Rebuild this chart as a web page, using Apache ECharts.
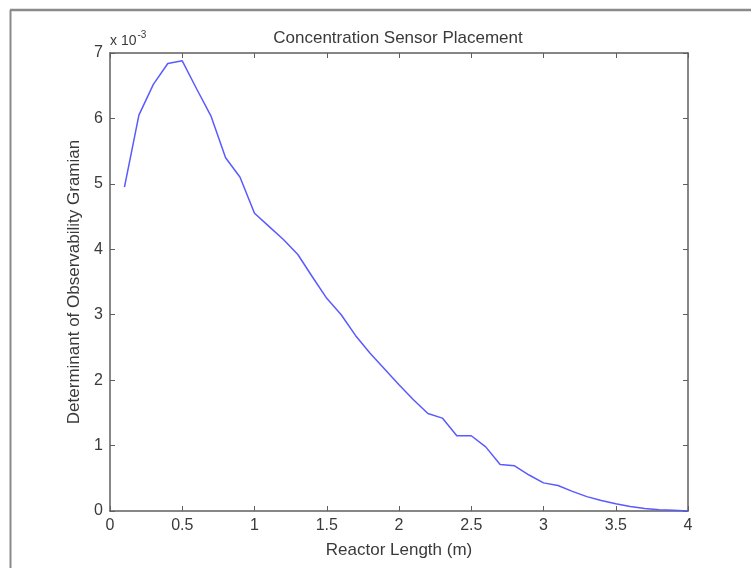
<!DOCTYPE html>
<html>
<head>
<meta charset="utf-8">
<style>
  html, body { margin: 0; padding: 0; background: #ffffff; }
  #chart { width: 751px; height: 568px; }
</style>
<script src="https://cdn.jsdelivr.net/npm/echarts@6/dist/echarts.min.js"></script>
</head>
<body>
<div id="chart"></div>
<script>
// Sensor position along the reactor (m)
const reactorLength = [
  0.1, 0.2, 0.3, 0.4, 0.5, 0.6, 0.7, 0.8, 0.9, 1.0,
  1.1, 1.2, 1.3, 1.4, 1.5, 1.6, 1.7, 1.8, 1.9, 2.0,
  2.1, 2.2, 2.3, 2.4, 2.5, 2.6, 2.7, 2.8, 2.9, 3.0,
  3.1, 3.2, 3.3, 3.4, 3.5, 3.6, 3.7, 3.8, 3.9, 4.0
];
// Determinant of the observability Gramian, in units of 1e-3
const gramianDet = [
  4.95, 6.05, 6.52, 6.84, 6.88, 6.45, 6.03, 5.40, 5.10, 4.55,
  4.35, 4.15, 3.92, 3.58, 3.25, 3.00, 2.68, 2.41, 2.17, 1.93,
  1.70, 1.49, 1.42, 1.15, 1.15, 0.98, 0.71, 0.69, 0.55, 0.43,
  0.39, 0.30, 0.22, 0.16, 0.11, 0.07, 0.04, 0.02, 0.01, 0.00
];
const xTicks = { min: 0, max: 4, interval: 0.5 };
const yTicks = { min: 0, max: 7, interval: 1 };

const font = 'Liberation Sans, Arial, Helvetica, sans-serif';
const axisGray = '#5f5f5f';
const textGray = '#3a3a3a';

const chart = echarts.init(document.getElementById('chart'), null, { renderer: 'canvas' });

const tickStyle = { show: true, inside: true, length: 5, lineStyle: { color: axisGray, width: 1 } };
const lineStyle = { show: true, onZero: false, lineStyle: { color: axisGray, width: 1.5 } };

chart.setOption({
  backgroundColor: '#ffffff',
  animation: false,
  grid: { left: 110, right: 63, top: 53, bottom: 57, containLabel: false },
  xAxis: [
    {
      type: 'value', position: 'bottom',
      min: xTicks.min, max: xTicks.max, interval: xTicks.interval,
      axisLine: lineStyle, axisTick: tickStyle, splitLine: { show: false },
      axisLabel: { color: textGray, fontFamily: font, fontSize: 16, margin: 7 },
      name: 'Reactor Length (m)', nameLocation: 'middle', nameGap: 31,
      nameTextStyle: { color: textGray, fontFamily: font, fontSize: 17 }
    },
    {
      type: 'value', position: 'top',
      min: xTicks.min, max: xTicks.max, interval: xTicks.interval,
      axisLine: lineStyle, axisTick: tickStyle, splitLine: { show: false },
      axisLabel: { show: false }
    }
  ],
  yAxis: [
    {
      type: 'value', position: 'left',
      min: yTicks.min, max: yTicks.max, interval: yTicks.interval,
      axisLine: lineStyle, axisTick: tickStyle, splitLine: { show: false },
      axisLabel: { color: textGray, fontFamily: font, fontSize: 16, margin: 7 },
      name: 'Determinant of Observability Gramian', nameLocation: 'middle', nameGap: 26,
      nameTextStyle: { color: textGray, fontFamily: font, fontSize: 17 }
    },
    {
      type: 'value', position: 'right',
      min: yTicks.min, max: yTicks.max, interval: yTicks.interval,
      axisLine: lineStyle, axisTick: tickStyle, splitLine: { show: false },
      axisLabel: { show: false }
    }
  ],
  title: {
    text: 'Concentration Sensor Placement',
    left: 393, top: 25, textAlign: 'center',
    textStyle: { color: textGray, fontFamily: font, fontSize: 17, fontWeight: 'normal' }
  },
  graphic: [
    // figure frame edges
    { type: 'line', shape: { x1: 10, y1: 10, x2: 751, y2: 10 }, style: { stroke: '#8a8a8a', lineWidth: 2.5 } },
    { type: 'line', shape: { x1: 10.5, y1: 10, x2: 10.5, y2: 568 }, style: { stroke: '#8a8a8a', lineWidth: 2 } },
    // exponent of the y axis
    {
      type: 'text', left: 110, top: 30,
      style: {
        text: '{b|x 10}{s|-3}',
        rich: {
          b: { fontFamily: font, fontSize: 14, fill: textGray, verticalAlign: 'bottom' },
          s: { fontFamily: font, fontSize: 10, fill: textGray, verticalAlign: 'top', padding: [0, 0, 8, 1] }
        }
      }
    }
  ],
  series: [
    {
      type: 'line',
      xAxisIndex: 0, yAxisIndex: 0,
      data: reactorLength.map((x, i) => [x, gramianDet[i]]),
      showSymbol: false,
      symbol: 'none',
      lineStyle: { color: '#5a5aff', width: 1.5 },
      z: 1
    }
  ]
});
</script>
</body>
</html>
